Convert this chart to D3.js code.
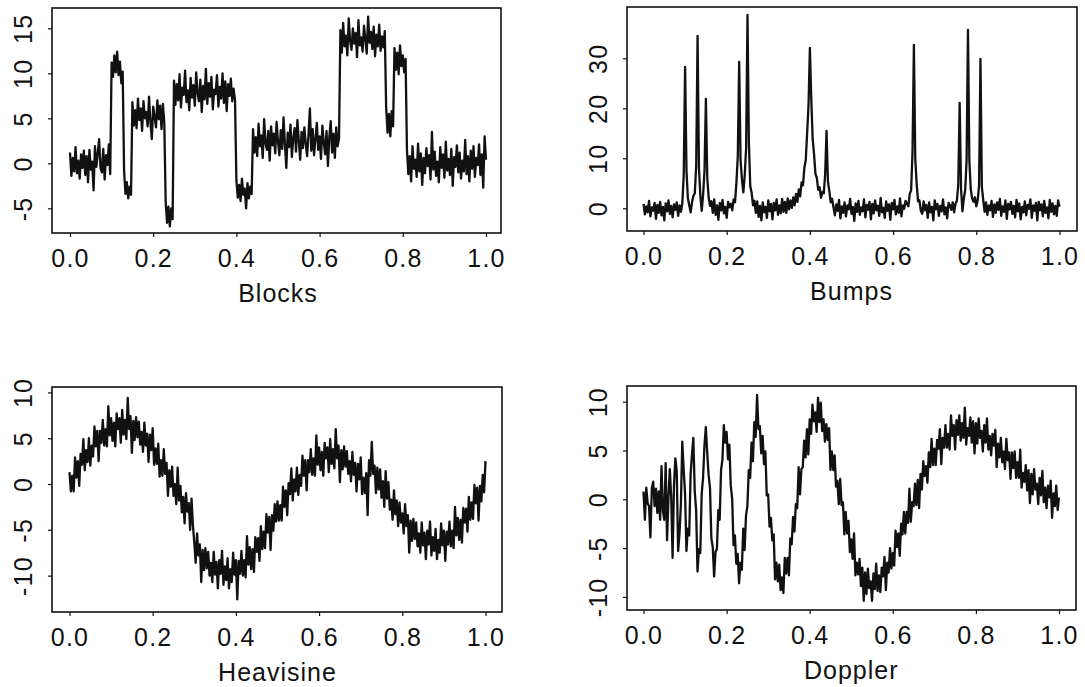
<!DOCTYPE html>
<html>
<head>
<meta charset="utf-8">
<script src="https://cdn.jsdelivr.net/npm/d3@7/dist/d3.min.js"></script>
<style>
  html, body { margin: 0; padding: 0; background: #fff; }
  svg text { font-family: "Liberation Sans", Arial, Helvetica, sans-serif; fill: #111; }
</style>
</head>
<body>
<svg id="chart" width="1085" height="687"></svg>
<script>
// Noisy test signals sampled on 301 equally spaced points of [0, 1]
const blocks = [
  1.2,-1.4,0.6,-0.9,1.8,-1.1,0.3,-1.7,1.0,-0.5,1.4,-1.3,0.8,-2.1,1.5,-0.7,0.2,-3.0,1.9,-0.4,1.1,2.7,-0.5,-1.0,1.6,-1.8,0.9,-0.2,2.1,-1.2,
  11.2,9.6,12.0,10.1,12.4,9.8,11.3,8.9,10.2,
  -0.8,-3.4,-2.1,-3.9,-2.6,-3.5,
  6.8,4.2,5.9,3.9,7.2,4.8,6.1,3.6,6.9,5.0,5.7,4.1,7.4,4.6,2.7,6.3,5.2,4.0,7.0,4.9,6.4,3.8,6.6,4.5,
  -4.3,-6.6,-4.8,-7.0,-5.0,-6.2,
  9.2,6.5,8.8,7.0,9.9,6.2,8.4,7.6,10.3,6.8,8.1,5.9,9.5,7.3,8.7,6.4,10.1,7.8,6.9,9.3,5.7,8.6,7.1,10.5,6.6,8.9,7.4,9.6,6.0,8.2,7.7,9.8,6.3,8.5,7.2,10.0,6.7,9.1,5.8,8.8,7.5,9.4,6.9,8.3,7.0,
  -1.9,-3.8,-2.4,-4.2,-1.7,-3.5,-2.8,-5.0,-2.2,-3.9,-2.6,-3.4,
  3.8,1.2,2.9,0.8,4.4,1.9,3.1,0.6,4.9,2.2,1.5,3.6,0.3,4.1,2.0,3.3,1.1,4.6,2.4,0.9,3.7,1.6,5.1,2.1,-0.5,3.4,1.8,4.3,0.7,2.8,3.9,1.3,4.8,2.5,0.4,3.5,1.7,4.0,2.2,0.8,3.2,6.1,1.4,3.8,0.9,2.7,4.5,1.5,3.0,0.5,4.2,2.3,1.0,3.6,-0.3,2.9,4.7,1.2,3.3,0.6,4.0,1.9,2.8,
  14.8,12.3,15.6,13.0,14.2,12.0,16.1,13.6,12.6,15.0,13.3,14.5,11.8,15.9,13.1,14.0,12.4,15.3,13.8,12.2,16.3,13.4,14.6,12.7,15.2,11.9,14.3,13.0,15.4,12.5,14.1,12.9,14.7,
  6.2,3.4,5.5,3.0,5.8,4.1,
  12.8,10.4,12.3,9.9,13.1,10.8,12.0,10.1,11.6,
  1.5,-1.2,0.8,-2.0,1.9,-0.6,0.4,-1.5,2.2,-0.9,1.1,-2.4,0.6,-1.1,1.7,-0.3,0.9,-1.8,3.5,-0.7,1.3,-1.4,0.2,-2.1,1.8,-0.5,1.0,-1.6,2.4,-0.8,0.5,-1.3,1.6,-2.5,0.7,-0.4,2.0,-1.0,1.2,-1.7,0.3,-0.9,2.6,-1.2,0.8,-2.0,1.4,-0.6,1.9,-1.5,0.6,-0.2,2.1,-1.3,1.0,-2.7,3.0,0.4
];

const bumps = [
  0.9,-1.2,0.4,-0.8,1.5,-1.6,0.2,-0.5,1.1,-2.1,0.7,-0.9,1.3,-1.4,0.3,-2.4,1.0,-0.6,1.6,-1.1,0.5,-1.8,0.8,-0.3,1.2,-1.5,0.6,-0.7,
  1.0,6.5,28.3,7.5,2.0,0.6,-0.8,1.2,2.5,3.0,8.5,34.5,8.0,2.5,-0.5,2.8,7.5,21.9,6.0,2.2,
  0.5,1.4,-0.9,1.8,-1.3,0.6,-2.3,1.1,-0.4,1.7,-1.0,0.3,-1.9,1.3,0.2,
  0.9,-0.4,1.8,1.2,5.1,10.4,29.3,9.6,5.8,3.2,6.6,12.0,38.7,13.1,4.4,3.1,0.6,1.5,-0.9,
  1.4,-1.7,0.5,-2.4,1.2,-0.8,0.3,-1.9,1.6,-0.6,0.9,-2.2,1.1,-0.4,1.8,-1.3,0.6,-1.0,1.9,-0.7,1.3,-0.9,2.0,-0.2,1.6,0.1,
  2.2,0.6,2.9,1.3,3.8,2.4,5.2,4.6,8.1,9.6,15.0,20.6,32.1,21.8,13.9,10.8,6.9,6.1,3.7,4.2,2.1,3.3,3.0,6.8,15.5,5.4,3.5,1.2,1.9,0.2,
  -1.4,0.8,-0.5,1.7,-2.0,0.4,-0.9,1.2,-1.6,0.6,-0.2,1.9,-1.1,0.3,-2.5,1.0,-0.7,1.5,-1.3,0.2,-0.6,1.8,-1.8,0.7,-0.3,1.3,-2.2,0.9,-1.0,1.6,-0.4,0.5,-1.5,2.1,-0.8,0.1,-1.9,1.4,-0.5,0.8,-2.3,1.1,-0.2,1.7,-1.2,0.4,-0.9,2.0,-1.6,0.6,-0.1,1.5,
  0.9,0.4,2.9,3.6,11.2,32.7,9.8,4.9,1.4,1.6,-0.5,
  -1.1,1.4,-0.4,0.7,-1.9,1.2,-0.8,0.3,-2.4,1.6,-0.2,0.9,-1.5,0.5,-0.6,1.8,-1.2,0.2,-2.0,1.1,0.6,
  -0.3,1.2,-0.8,0.9,1.5,4.8,21.1,3.9,-0.6,1.9,3.7,9.6,35.7,9.4,3.8,2.0,1.3,2.2,0.4,1.6,4.6,29.9,4.3,1.7,-0.7,1.2,
  -1.3,0.6,-0.4,1.5,-1.7,0.8,-0.9,1.2,-0.3,1.9,-1.5,0.4,-0.7,1.6,-2.1,0.9,-0.2,1.3,-1.1,0.5,-1.8,1.7,-0.6,1.0,-2.2,0.3,-0.8,1.4,-1.4,0.7,-0.1,1.8,-1.9,0.6,-0.5,1.1,-2.4,1.3,-0.4,0.8,-1.6,1.5,-0.9,0.2,-2.0,1.7,-0.7,1.0,-1.2,0.5,-1.5,1.6,0.3
];

const heavisine = [
  1.3,-0.8,0.9,-0.8,2.9,0.7,2.5,-0.2,3.3,2.1,
  4.9,1.5,3.7,2.4,5.0,2.0,4.2,3.0,6.3,4.1,
  5.8,2.5,5.8,4.5,7.0,4.2,6.0,4.1,8.5,5.3,
  7.2,4.7,6.7,4.1,7.7,6.0,7.2,4.5,8.1,5.4,
  7.0,4.9,9.4,6.0,7.4,3.4,6.9,4.8,7.3,5.1,
  6.8,4.3,5.7,3.5,6.7,4.2,5.5,2.4,5.4,3.7,
  6.1,2.1,3.9,2.2,4.4,0.8,2.6,0.9,3.8,1.1,
  2.3,-1.3,1.5,-0.3,1.9,-1.3,0.0,-2.2,1.8,-1.8,
  -0.2,-3.1,-1.4,-4.3,-1.0,-3.0,-2.1,-5.0,-1.6,-4.5,
  -6.4,-8.6,-5.4,-7.8,-6.6,-10.7,-7.2,-9.4,-7.0,-9.2,
  -7.4,-10.0,-8.6,-10.7,-7.4,-9.9,-8.5,-11.4,-8.3,-9.8,
  -7.3,-11.0,-9.0,-10.5,-8.1,-11.4,-9.3,-10.7,-7.5,-9.9,
  -8.3,-12.6,-8.4,-9.8,-7.3,-10.0,-8.3,-10.2,-5.7,-8.8,
  -6.9,-9.3,-7.1,-9.6,-5.8,-7.4,-5.9,-8.4,-4.6,-7.1,
  -5.2,-7.0,-3.3,-5.3,-3.6,-7.2,-3.4,-5.1,-2.2,-4.1,
  -1.9,-4.0,-2.3,-4.0,-0.3,-2.5,-0.7,-3.4,0.1,-1.1,
  1.7,-1.8,0.5,-0.8,1.8,-1.2,1.0,-0.2,3.1,0.9,
  2.6,-0.7,2.6,1.3,3.8,1.0,2.8,0.9,5.3,2.1,
  4.0,1.5,3.5,0.9,4.5,2.8,4.0,1.3,4.9,2.2,
  3.8,1.7,6.0,2.8,4.2,0.2,3.7,1.6,4.1,1.9,
  3.6,1.1,2.5,0.3,3.5,1.0,2.3,-0.8,2.2,0.5,
  2.9,-1.1,0.7,-1.0,1.2,-3.4,2.6,0.9,4.6,1.1,
  2.0,-1.0,1.8,-0.6,1.6,-1.5,0.3,-2.5,1.4,-1.6,
  0.2,-2.8,-1.7,-3.9,-0.7,-3.3,-1.8,-4.6,-2.0,-4.2,
  -3.2,-5.4,-2.2,-4.6,-3.4,-7.5,-4.0,-6.2,-3.8,-6.0,
  -4.2,-6.8,-5.4,-7.5,-4.2,-6.7,-5.3,-8.2,-5.1,-6.6,
  -4.1,-7.8,-5.8,-7.3,-4.9,-8.2,-6.1,-7.5,-4.3,-6.7,
  -5.1,-8.4,-5.2,-6.6,-4.1,-6.8,-5.1,-7.0,-2.5,-5.6,
  -3.7,-6.1,-3.9,-6.4,-2.6,-4.2,-2.7,-5.2,-1.4,-3.9,
  -2.0,-3.8,-0.1,-2.1,-0.4,-4.0,-0.2,-1.9,1.0,-0.9,
  2.5
];

const doppler = [
  0.8,-2.1,1.2,-0.4,-0.7,-3.9,1.1,1.8,-0.7,1.1,
  -1.4,0.8,-2.1,3.4,-1.2,-2.1,3.7,-4.2,0.1,3.1,
  0.2,-6.0,1.4,4.2,2.9,-5.3,-3.5,-0.5,5.9,3.1,
  0.6,-5.3,-3.0,-3.7,2.5,4.6,6.3,0.8,-1.1,-7.4,
  -5.1,-5.5,0.5,2.2,5.5,7.4,4.8,2.5,1.2,-4.0,
  -4.9,-7.9,-5.4,-5.1,-1.1,-2.1,3.0,4.1,7.6,5.8,
  6.9,4.1,5.6,1.4,0.1,-4.7,-3.7,-6.6,-5.6,-8.6,
  -6.5,-7.2,-3.0,-5.2,-1.7,-0.7,3.0,2.2,5.8,3.9,
  7.9,6.4,10.7,7.2,7.5,4.7,6.5,3.6,4.9,0.4,
  0.5,-2.8,-1.9,-4.2,-3.6,-8.2,-6.5,-8.4,-6.7,-9.3,
  -8.0,-9.6,-6.0,-7.6,-6.0,-7.8,-4.0,-4.6,-1.8,-3.3,
  -0.5,-0.9,3.3,0.5,3.1,3.3,6.0,4.3,7.2,4.6,
  8.2,6.7,9.7,8.0,8.9,6.9,10.4,7.9,9.9,7.0,
  8.2,5.9,7.7,6.1,7.3,3.0,4.9,3.0,4.5,1.3,
  1.9,-0.5,2.1,-0.6,-0.3,-3.6,-1.3,-3.5,-2.2,-5.4,
  -4.1,-6.1,-3.5,-7.8,-6.5,-7.7,-6.1,-8.9,-7.0,-10.4,
  -7.5,-9.7,-7.1,-9.1,-8.4,-10.4,-7.6,-9.2,-6.6,-9.4,
  -7.8,-9.5,-7.0,-7.9,-5.9,-9.3,-6.5,-7.5,-5.0,-7.1,
  -5.5,-6.8,-3.2,-4.9,-3.5,-5.8,-2.5,-3.6,-1.3,-3.5,
  -1.3,-2.4,1.1,-2.3,-0.3,-0.7,1.6,-0.6,2.0,-0.9,
  2.6,1.0,3.9,2.4,3.4,1.7,4.8,3.3,6.2,3.5,
  5.2,3.5,6.1,5.2,7.2,3.6,6.3,5.3,7.6,5.3,
  6.7,5.1,8.6,6.5,7.6,5.1,8.1,6.6,8.6,6.0,
  7.8,6.3,9.4,5.6,7.3,6.5,8.4,5.8,8.0,4.7,
  7.8,5.7,8.3,6.3,7.0,4.9,7.6,5.8,8.3,5.1,
  6.5,4.5,6.7,5.5,7.1,3.3,5.7,4.3,6.3,3.8,
  4.9,3.1,6.2,4.0,4.8,2.1,4.8,3.2,4.9,2.2,
  3.8,2.2,5.1,1.2,2.7,1.8,3.5,0.9,3.0,-0.4,
  2.6,0.5,3.1,1.0,1.6,-0.5,2.2,0.4,2.9,-0.3,
  1.2,-0.9,1.4,0.2,1.9,-1.9,0.6,-0.7,1.4,-1.1,
  0.2
];

const xTicks = [0, 0.2, 0.4, 0.6, 0.8, 1.0];
const blocksTicks = [-5, 0, 5, 10, 15];
const bumpsTicks = [0, 10, 20, 30];
const heavisineTicks = [-10, -5, 0, 5, 10];
const dopplerTicks = [-10, -5, 0, 5, 10];
const titles = ["Blocks", "Bumps", "Heavisine", "Doppler"];

// Panel frames: box = [left, top, right, bottom]; xr = pixel span of t in [0, 1];
// yd = data values at the bottom and top edges of the box
const panels = [
  { title: titles[0], values: blocks,    ticks: blocksTicks,    box: [52, 8, 501, 233],   xr: [70, 486],     yd: [-7.74, 17.26] },
  { title: titles[1], values: bumps,     ticks: bumpsTicks,     box: [627, 7, 1077, 231], xr: [643.5, 1059.5], yd: [-4.54, 40.26] },
  { title: titles[2], values: heavisine, ticks: heavisineTicks, box: [52, 387, 502, 612], xr: [69.5, 485.5], yd: [-13.97, 10.59] },
  { title: titles[3], values: doppler,   ticks: dopplerTicks,   box: [627, 386, 1076, 610], xr: [643.5, 1059], yd: [-11.34, 11.61] }
];

const svg = d3.select("#chart");
const fontSize = 25;
const ink = "#111";
// plain hyphen for negative tick labels
const intLabel = d => (d < 0 ? "-" + Math.abs(d) : String(d));

panels.forEach(p => {
  const [L, T, R, B] = p.box;
  const n = p.values.length;
  const x = d3.scaleLinear().domain([0, 1]).range(p.xr);
  const y = d3.scaleLinear().domain(p.yd).range([B, T]);
  const g = svg.append("g");

  // signal trace
  const line = d3.line()
    .x((d, i) => x(i / (n - 1)))
    .y(d => y(d));
  g.append("path")
    .datum(p.values)
    .attr("d", line)
    .attr("fill", "none")
    .attr("stroke", ink)
    .attr("stroke-width", 2.3)
    .attr("stroke-linejoin", "round");

  // frame
  g.append("rect")
    .attr("x", L).attr("y", T)
    .attr("width", R - L).attr("height", B - T)
    .attr("fill", "none")
    .attr("stroke", ink)
    .attr("stroke-width", 1.6);

  // bottom axis
  const xAxis = d3.axisBottom(x)
    .tickValues(xTicks)
    .tickSize(4)
    .tickPadding(0)
    .tickFormat(d3.format(".1f"));
  const xg = g.append("g").attr("transform", `translate(0,${B})`).call(xAxis);
  xg.select(".domain").remove();
  xg.selectAll(".tick line").attr("stroke", ink).attr("stroke-width", 1.2);
  xg.selectAll(".tick text")
    .attr("y", 34).attr("dy", null)
    .attr("font-size", fontSize)
    .attr("letter-spacing", 1.2)
    .attr("fill", ink);

  // left axis, labels parallel to the axis
  const yAxis = d3.axisLeft(y)
    .tickValues(p.ticks)
    .tickSize(4)
    .tickFormat(intLabel);
  const yg = g.append("g").attr("transform", `translate(${L},0)`).call(yAxis);
  yg.select(".domain").remove();
  yg.selectAll(".tick line").attr("stroke", ink).attr("stroke-width", 1.2);
  yg.selectAll(".tick text")
    .attr("x", null).attr("dy", null)
    .attr("text-anchor", "middle")
    .attr("transform", "translate(-20,0) rotate(-90)")
    .attr("font-size", fontSize)
    .attr("letter-spacing", 1.2)
    .attr("fill", ink);

  // panel title
  g.append("text")
    .attr("x", (p.xr[0] + p.xr[1]) / 2)
    .attr("y", B + 69)
    .attr("text-anchor", "middle")
    .attr("font-size", fontSize)
    .attr("letter-spacing", 1)
    .text(p.title);
});
</script>
</body>
</html>
